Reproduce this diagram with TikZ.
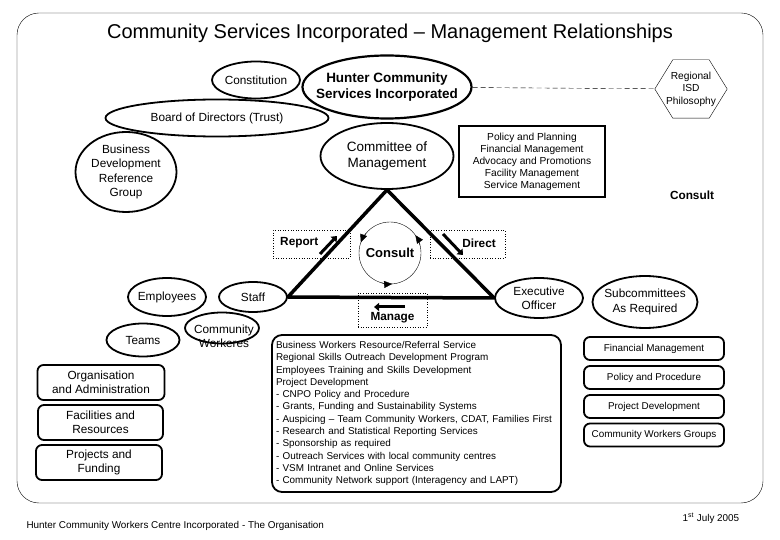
\documentclass[tikz,border=0pt]{standalone}
\usepackage{fontspec}
\setmainfont{Liberation Sans}
\usepackage{tikz}
\usetikzlibrary{shapes.geometric,arrows.meta,calc}

\newcommand\ftitle{\fontsize{20}{24}\selectfont}
\newcommand\fbig{\fontsize{13.5}{16}\selectfont}
\newcommand\fcon{\fontsize{13}{15}\selectfont}
\newcommand\fmid{\fontsize{11.8}{14.2}\selectfont}
\newcommand\fhex{\fontsize{10.2}{12.5}\selectfont}
\newcommand\fpol{\fontsize{10.2}{12}\selectfont}
\newcommand\fsmall{\fontsize{9.9}{12.3}\selectfont}

\begin{document}
\begin{tikzpicture}[x=1pt,y=-1pt,
    oval/.style={ellipse, draw, line width=1.8pt, inner sep=0pt},
    rbox/.style={draw, line width=1.8pt, rounded corners=6pt, inner sep=0pt, align=center},
    dotbox/.style={draw, dotted, line width=0.6pt},
    fatarrow/.style={line width=3pt, -{Triangle[length=5pt,width=8pt]}},
    cyc/.style={-{Triangle[length=8pt,width=7pt]}}]
\fill[white] (0,0) rectangle (780,540);
\draw[rounded corners=22pt] (17,13) rectangle (763,503);
\node[font=\ftitle] (title) at (390,33) {Community Services Incorporated – Management Relationships};

% top row
\node[oval, minimum width=88pt, minimum height=37pt, label={[font=\fmid]center:Constitution}] (constitution) at (256,80) {};
\node[oval, line width=2.2pt, minimum width=169pt, minimum height=63pt, label={[font=\fbig\bfseries, align=center]center:Hunter Community\\Services Incorporated}] (hunter) at (387,87) {};
\node[minimum width=72pt, minimum height=58pt, inner sep=0pt, font=\fhex, align=center] (isd) at (691,89) {Regional\\ISD\\Philosophy};
\draw ($(isd.north west)+(18,0)$) -- ($(isd.north east)+(-18,0)$) -- (isd.east) -- ($(isd.south east)+(-18,0)$) -- ($(isd.south west)+(18,0)$) -- (isd.west) -- cycle;
\draw[dash pattern=on 5pt off 3pt] (hunter) -- (isd);
\node[oval, minimum width=223pt, minimum height=37pt, label={[font=\fmid]center:Board of Directors (Trust)}] (board) at (217,118) {};
\node[oval, minimum width=101pt, minimum height=80pt, label={[font=\fmid, align=center]center:Business\\Development\\Reference\\Group}] (bdrg) at (126,172) {};
\node[oval, minimum width=133pt, minimum height=66pt, label={[font=\fbig, align=center]center:Committee of\\Management}] (committee) at (387,156) {};
\node[draw, line width=1.8pt, minimum width=146pt, minimum height=71pt, font=\fpol, align=center] (policy) at (532,161.5) {Policy and Planning\\Financial Management\\Advocacy and Promotions\\Facility Management\\Service Management};
\node[font=\fmid\bfseries] (consultr) at (692,195) {Consult};

% people
\node[oval, minimum width=78pt, minimum height=38pt, label={[font=\fmid]center:Employees}] (employees) at (167,297) {};
\node[oval, minimum width=68pt, minimum height=30pt, label={[font=\fmid]center:Staff}] (staff) at (253,297) {};
\node[oval, minimum width=73pt, minimum height=33pt, label={[font=\fmid]center:Teams}] (teams) at (143,340) {};
\node[oval, minimum width=74pt, minimum height=31pt, label={[font=\fmid, align=center, xshift=2pt, yshift=-8.5pt]center:Community\\Workeres}] (cworkers) at (222,328) {};
\node[oval, minimum width=88pt, minimum height=40pt, label={[font=\fmid, align=center]center:Executive\\Officer}] (exec) at (539,298) {};
\node[oval, minimum width=105pt, minimum height=52pt, label={[font=\fmid, align=center]center:Subcommittees\\As Required}] (subcom) at (645,302) {};

% triangle
\draw[line width=3.5pt, line join=round] (committee.south) -- (staff.east) -- (exec.west) -- cycle;
\node[font=\fcon\bfseries] (consult) at (390,253) {Consult};
\draw (consult.center) circle[radius=31pt];
\foreach \a/\b in {140/160, 15/35, 254/274}
  \draw[cyc] (consult.center) ++(\a:31pt) arc[start angle=\a, end angle=\b, radius=31pt];
\node[dotbox, minimum width=77pt, minimum height=28pt, label={[font=\fmid\bfseries, anchor=west, xshift=4pt, yshift=1.5pt]west:Report}] (report) at (311.5,244) {};
\draw[fatarrow] (320,254) -- (337,236);
\node[dotbox, minimum width=75pt, minimum height=28pt, label={[font=\fmid\bfseries, anchor=east, xshift=-6pt, yshift=1pt]east:Direct}] (direct) at (467.5,244) {};
\draw[fatarrow] (443,234) -- (463,255);
\node[dotbox, minimum width=69pt, minimum height=34pt, label={[font=\fmid\bfseries, yshift=-8pt]center:Manage}] (manage) at (392.5,310) {};
\draw[fatarrow] (405,307) -- (374,307);

% left boxes
\node[rbox, minimum width=127pt, minimum height=35pt, font=\fmid] (org) at (101,382.5) {Organisation\\and Administration};
\node[rbox, minimum width=125pt, minimum height=35pt, font=\fmid] (facil) at (100.5,422.5) {Facilities and\\Resources};
\node[rbox, minimum width=126pt, minimum height=35pt, font=\fmid] (projects) at (99,462.5) {Projects and\\Funding};

% services
\node[rbox, rounded corners=10pt, minimum height=157pt, text width=281pt, inner sep=4pt, align=left, font=\fsmall] (services) at (416.5,413.5) {Business Workers Resource/Referral Service\\
Regional Skills Outreach Development Program\\
Employees Training and Skills Development\\
Project Development\\
- CNPO Policy and Procedure\\
- Grants, Funding and Sustainability Systems\\
- Auspicing – Team Community Workers, CDAT, Families First\\
- Research and Statistical Reporting Services\\
- Sponsorship as required\\
- Outreach Services with local community centres\\
- VSM Intranet and Online Services\\
- Community Network support (Interagency and LAPT)};

% right boxes
\node[rbox, minimum width=140pt, minimum height=23pt, font=\fsmall] (finance) at (654,348.5) {Financial Management};
\node[rbox, minimum width=140pt, minimum height=23pt, font=\fsmall] (polproc) at (654,377.5) {Policy and Procedure};
\node[rbox, minimum width=140pt, minimum height=23pt, font=\fsmall] (projdev) at (654,406.5) {Project Development};
\node[rbox, minimum width=140pt, minimum height=23pt, font=\fsmall] (cwgroups) at (654,435) {Community Workers Groups};

% footer
\node[font=\fsmall, anchor=west] (footl) at (23,526) {Hunter Community Workers Centre Incorporated - The Organisation};
\node[font=\fsmall] (footr) at (711,518) {1\textsuperscript{st} July 2005};
\end{tikzpicture}
\end{document}
